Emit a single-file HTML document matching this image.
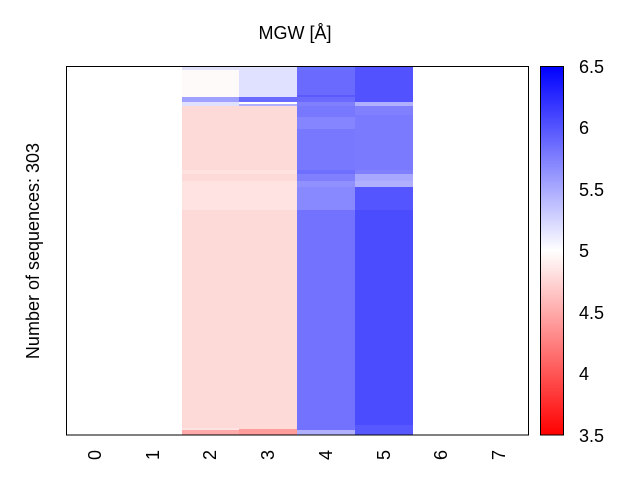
<!DOCTYPE html>
<html><head><style>body{margin:0;background:#fff}</style></head><body>
<svg width="640" height="480" xmlns="http://www.w3.org/2000/svg" font-family="Liberation Sans, sans-serif">
<defs><linearGradient id="g" x1="0" y1="1" x2="0" y2="0">
<stop offset="0" stop-color="#ff0000"/><stop offset="0.5" stop-color="#ffffff"/><stop offset="1" stop-color="#0000ff"/></linearGradient></defs>
<rect width="640" height="480" fill="#fff"/>
<rect x="182" y="67" width="57" height="368" fill="#fdd9d8"/>
<rect x="182" y="67" width="57" height="3" fill="#e0e0f8"/>
<rect x="182" y="70" width="57" height="27" fill="#fffafa"/>
<rect x="182" y="97" width="57" height="5" fill="#a0a0ff"/>
<rect x="182" y="102" width="57" height="4" fill="#e0e0ff"/>
<rect x="182" y="170" width="57" height="4" fill="#fde2e0"/>
<rect x="182" y="181" width="57" height="29" fill="#fee3e2"/>
<rect x="182" y="428" width="57" height="2" fill="#fee3e2"/>
<rect x="182" y="430" width="57" height="5" fill="#ffaaaa"/>
<rect x="239" y="67" width="58" height="368" fill="#fdd9d8"/>
<rect x="239" y="67" width="58" height="30" fill="#e0e0ff"/>
<rect x="239" y="97" width="58" height="5" fill="#6a6aff"/>
<rect x="239" y="102" width="58" height="2" fill="#ffffff"/>
<rect x="239" y="104" width="58" height="2" fill="#b0b0ff"/>
<rect x="239" y="170" width="58" height="4" fill="#fde2e0"/>
<rect x="239" y="181" width="58" height="29" fill="#fee3e2"/>
<rect x="239" y="429" width="58" height="6" fill="#ff9d9d"/>
<rect x="297" y="67" width="58" height="368" fill="#7272ff"/>
<rect x="297" y="67" width="58" height="3" fill="#6870ff"/>
<rect x="297" y="70" width="58" height="25" fill="#6a6aff"/>
<rect x="297" y="95" width="58" height="2" fill="#5a5aff"/>
<rect x="297" y="97" width="58" height="5" fill="#6a6aff"/>
<rect x="297" y="102" width="58" height="4" fill="#8080ff"/>
<rect x="297" y="106" width="58" height="64" fill="#7878ff"/>
<rect x="297" y="117" width="58" height="12" fill="#8585ff"/>
<rect x="297" y="170" width="58" height="4" fill="#6e6eff"/>
<rect x="297" y="174" width="58" height="7" fill="#8080ff"/>
<rect x="297" y="181" width="58" height="6" fill="#9090ff"/>
<rect x="297" y="187" width="58" height="23" fill="#8888ff"/>
<rect x="297" y="430" width="58" height="5" fill="#b0b0ff"/>
<rect x="355" y="67" width="58" height="368" fill="#4c4cff"/>
<rect x="355" y="67" width="58" height="35" fill="#5252ff"/>
<rect x="355" y="102" width="58" height="4" fill="#b0b0ff"/>
<rect x="355" y="106" width="58" height="9" fill="#8080ff"/>
<rect x="355" y="115" width="58" height="55" fill="#7a7aff"/>
<rect x="355" y="170" width="58" height="4" fill="#8080ff"/>
<rect x="355" y="174" width="58" height="7" fill="#a8a8ff"/>
<rect x="355" y="181" width="58" height="6" fill="#b0b0ff"/>
<rect x="355" y="187" width="58" height="23" fill="#5555ff"/>
<rect x="355" y="425" width="58" height="10" fill="#5858ff"/>
<rect x="66.5" y="66.5" width="462" height="368.5" fill="none" stroke="#000" stroke-width="1"/>
<rect x="540.5" y="66.5" width="23" height="368.5" fill="url(#g)" stroke="#000" stroke-width="1"/>
<g font-size="18" fill="#000">
<text x="579" y="73">6.5</text><text x="579" y="134">6</text><text x="579" y="196">5.5</text>
<text x="579" y="257">5</text><text x="579" y="319">4.5</text><text x="579" y="380">4</text><text x="579" y="442">3.5</text>
<text x="295" y="39" text-anchor="middle">MGW [Å]</text>
<text transform="translate(39,251) rotate(-90)" text-anchor="middle">Number of sequences: 303</text>
<g text-anchor="middle">
<text transform="translate(101,455) rotate(-90)">0</text>
<text transform="translate(159,455) rotate(-90)">1</text>
<text transform="translate(216,455) rotate(-90)">2</text>
<text transform="translate(274,455) rotate(-90)">3</text>
<text transform="translate(332,455) rotate(-90)">4</text>
<text transform="translate(390,455) rotate(-90)">5</text>
<text transform="translate(447,455) rotate(-90)">6</text>
<text transform="translate(505,455) rotate(-90)">7</text>
</g></g>
</svg>
</body></html>
